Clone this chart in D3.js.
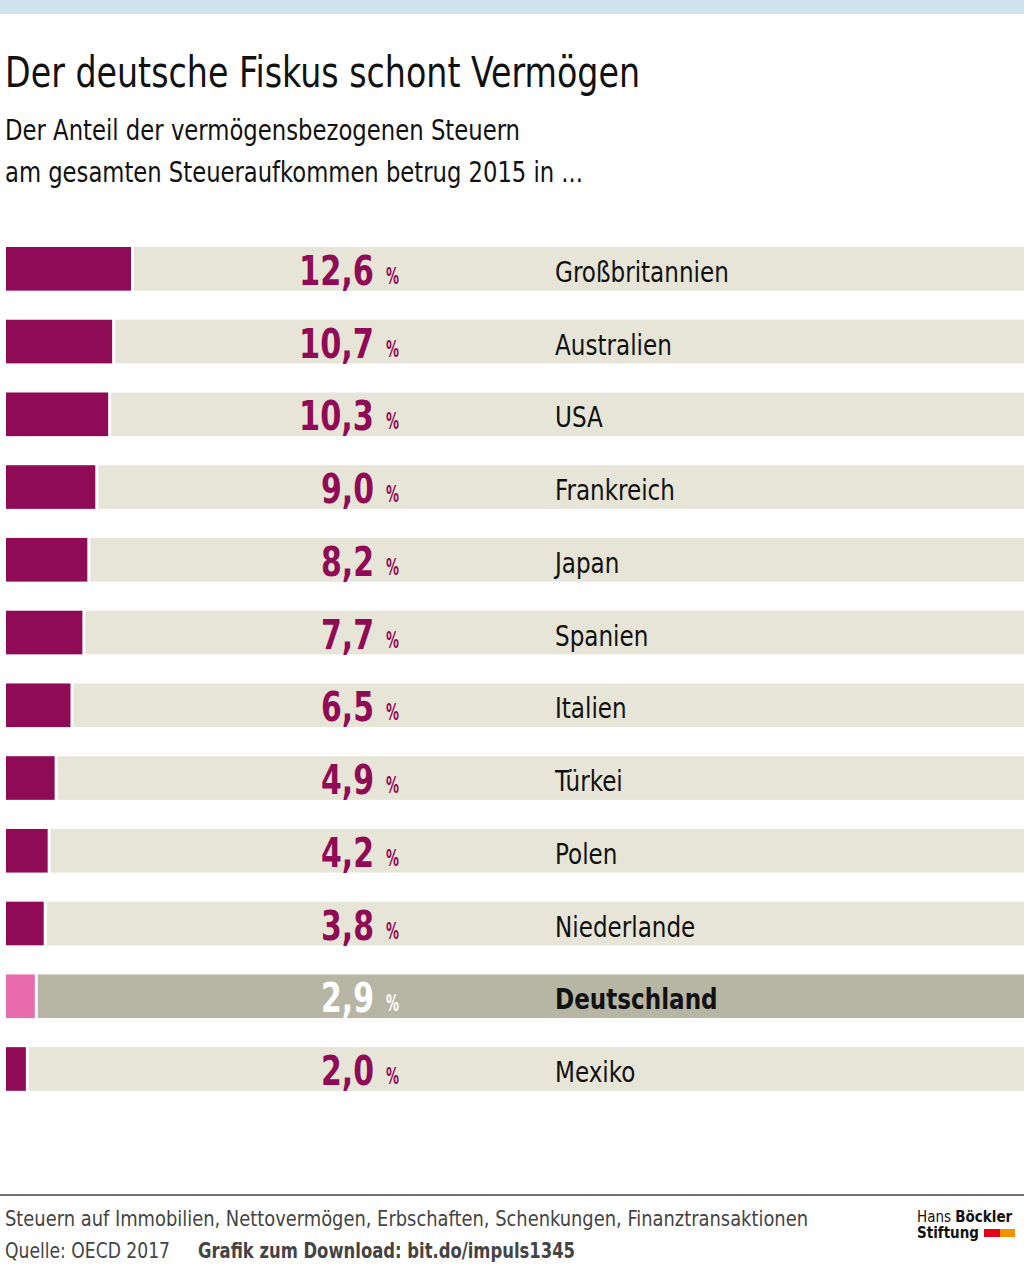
<!DOCTYPE html>
<html>
<head>
<meta charset="utf-8">
<script src="https://cdn.jsdelivr.net/npm/d3@7"></script>
<style>
  html, body { margin: 0; padding: 0; background: #fff; }
  svg { display: block; }
  text { font-family: "Liberation Sans Narrow", "DejaVu Sans Condensed", "Roboto", sans-serif; }
</style>
</head>
<body>
<div id="chart"></div>
<script>
// data
const countries = ['Großbritannien', 'Australien', 'USA', 'Frankreich', 'Japan', 'Spanien',
  'Italien', 'Türkei', 'Polen', 'Niederlande', 'Deutschland', 'Mexiko'];
const shares = [12.6, 10.7, 10.3, 9.0, 8.2, 7.7, 6.5, 4.9, 4.2, 3.8, 2.9, 2.0];
const highlight = 'Deutschland';

const titleText = 'Der deutsche Fiskus schont Vermögen';
const subtitleLines = ['Der Anteil der vermögensbezogenen Steuern',
  'am gesamten Steueraufkommen betrug 2015 in ...'];
const noteText = 'Steuern auf Immobilien, Nettovermögen, Erbschaften, Schenkungen, Finanztransaktionen';

const W = 1024, H = 1272;
const C = {
  purple: '#8f0b55',
  pink: '#e96bb0',
  rowBg: '#e7e5d8',
  rowHi: '#b7b6a5',
  band: '#cde3ee'
};

const svg = d3.select('#chart').append('svg')
  .attr('width', W).attr('height', H);

// squeeze a text node to a share of its natural width (the fonts here are wider)
function squeeze(sel, k) {
  sel.each(function() {
    const w = this.getComputedTextLength();
    d3.select(this).attr('textLength', w * k).attr('lengthAdjust', 'spacingAndGlyphs');
  });
}

// top band
svg.append('rect').attr('x', 0).attr('y', 0).attr('width', W).attr('height', 14)
  .attr('fill', C.band);

// heading
svg.append('text').attr('x', 5).attr('y', 87)
  .attr('font-size', 43).attr('fill', '#111')
  .attr('textLength', 635).attr('lengthAdjust', 'spacingAndGlyphs')
  .text(titleText);

svg.selectAll('text.sub').data(subtitleLines).enter().append('text')
  .attr('class', 'sub')
  .attr('x', 5).attr('y', (d, i) => 140 + i * 42)
  .attr('font-size', 29).attr('fill', '#111')
  .attr('textLength', (d, i) => i === 0 ? 515 : 578)
  .attr('lengthAdjust', 'spacingAndGlyphs')
  .text(d => d);

// scales
const x = d3.scaleLinear().domain([0, 12.6]).range([0, 125]);
const y = d3.scaleBand().domain(countries)
  .range([247, 247 + 12 * 72.75 - 29.2])
  .paddingInner(0.4).paddingOuter(0);

const rows = svg.selectAll('g.row')
  .data(countries.map((c, i) => ({ name: c, value: shares[i] })))
  .enter().append('g')
  .attr('class', 'row')
  .attr('transform', d => `translate(0,${y(d.name)})`);

const x0 = 6;

rows.append('rect')
  .attr('x', d => x0 + x(d.value) + 3)
  .attr('y', 0)
  .attr('width', d => W - (x0 + x(d.value) + 3))
  .attr('height', y.bandwidth())
  .attr('fill', d => d.name === highlight ? C.rowHi : C.rowBg);

rows.append('rect')
  .attr('x', x0)
  .attr('y', 0)
  .attr('width', d => x(d.value))
  .attr('height', y.bandwidth())
  .attr('fill', d => d.name === highlight ? C.pink : C.purple);

// value labels: right edge at 374, narrowed with a horizontal scale
const fmt = v => d3.format('.1f')(v).replace('.', ',');
const valW = v => (fmt(v).length - 1) * 22 + 9;
rows.append('text')
  .attr('text-anchor', 'end')
  .attr('font-size', 41).attr('font-weight', 'bold')
  .attr('fill', d => d.name === highlight ? '#fff' : C.purple)
  .text(d => fmt(d.value))
  .each(function(d) {
    const k = valW(d.value) / this.getComputedTextLength();
    d3.select(this).attr('transform', `translate(374,38) scale(${k},1)`);
  });

rows.append('text')
  .attr('font-size', 23).attr('font-weight', 'bold')
  .attr('fill', d => d.name === highlight ? '#fff' : C.purple)
  .text('%')
  .each(function() {
    const k = 13 / this.getComputedTextLength();
    d3.select(this).attr('transform', `translate(386,37) scale(${k},1)`);
  });

// country names
rows.append('text')
  .attr('x', 555).attr('y', 35)
  .attr('font-size', 29)
  .attr('font-weight', d => d.name === highlight ? 'bold' : 'normal')
  .attr('fill', '#111')
  .text(d => d.name)
  .call(squeeze, 0.885);

// footer
svg.append('line').attr('x1', 0).attr('x2', W).attr('y1', 1195).attr('y2', 1195)
  .attr('stroke', '#444').attr('stroke-width', 1.5);

svg.append('text').attr('x', 5).attr('y', 1226)
  .attr('font-size', 21).attr('fill', '#444')
  .attr('textLength', 803).attr('lengthAdjust', 'spacingAndGlyphs')
  .text(noteText);

svg.append('text').attr('x', 5).attr('y', 1258)
  .attr('font-size', 21).attr('fill', '#444')
  .attr('textLength', 165).attr('lengthAdjust', 'spacingAndGlyphs')
  .text('Quelle: OECD 2017');

svg.append('text').attr('x', 198).attr('y', 1258)
  .attr('font-size', 21).attr('font-weight', 'bold').attr('fill', '#444')
  .attr('textLength', 377).attr('lengthAdjust', 'spacingAndGlyphs')
  .text('Grafik zum Download: bit.do/impuls1345');

// logo
const logo = svg.append('g').attr('transform', 'translate(917,0)');
const l1 = logo.append('text').attr('x', 0).attr('y', 1222)
  .attr('font-family', 'Liberation Sans, Arial, sans-serif')
  .attr('font-size', 15).attr('fill', '#111');
l1.append('tspan').text('Hans ');
l1.append('tspan').attr('font-weight', 'bold').text('Böckler');
logo.append('text').attr('x', 0).attr('y', 1238)
  .attr('font-family', 'Liberation Sans, Arial, sans-serif')
  .attr('font-size', 15).attr('font-weight', 'bold').attr('fill', '#111')
  .text('Stiftung');
logo.append('rect').attr('x', 67).attr('y', 1229).attr('width', 16).attr('height', 8)
  .attr('fill', '#e3001b');
logo.append('rect').attr('x', 83).attr('y', 1229).attr('width', 15).attr('height', 8)
  .attr('fill', '#f39200');
</script>
</body>
</html>
